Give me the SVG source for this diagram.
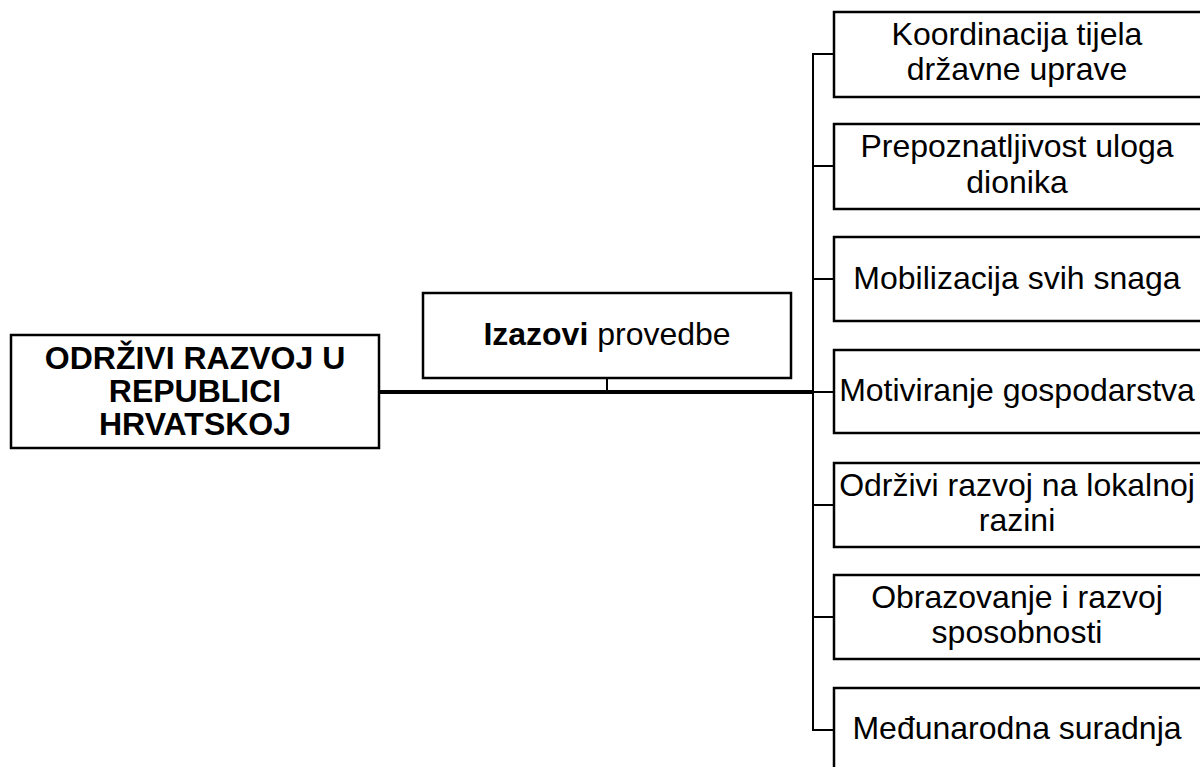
<svg xmlns="http://www.w3.org/2000/svg" width="1200" height="767" viewBox="0 0 1200 767">
<style>
.box{fill:#fff;stroke:#000;stroke-width:2.5}
.t{font-family:"Liberation Sans",Arial,sans-serif;font-size:32px;fill:#000;text-anchor:middle}
.b{font-weight:bold}
.c{stroke:#000;fill:none;stroke-width:2}
.thick{stroke:#000;fill:none;stroke-width:4}
</style>
<rect width="1200" height="767" fill="#fff"/>
<g id="connectors">
<line class="thick" x1="379" y1="392" x2="813" y2="392"/>
<line class="c" x1="607" y1="378" x2="607" y2="392"/>
<line class="c" x1="813" y1="54" x2="813" y2="730"/>
<line class="c" x1="812" y1="54" x2="834" y2="54"/>
<line class="c" x1="812" y1="166" x2="834" y2="166"/>
<line class="c" x1="812" y1="279" x2="834" y2="279"/>
<line class="c" x1="812" y1="392" x2="834" y2="392"/>
<line class="c" x1="812" y1="505" x2="834" y2="505"/>
<line class="c" x1="812" y1="617" x2="834" y2="617"/>
<line class="c" x1="812" y1="730" x2="834" y2="730"/>
</g>
<g id="main">
<rect class="box" x="11" y="335" width="368" height="113"/>
<text class="t b" font-size="31" x="195" y="369">ODRŽIVI RAZVOJ U</text>
<text class="t b" font-size="31" x="195" y="402">REPUBLICI</text>
<text class="t b" font-size="31" x="195" y="435">HRVATSKOJ</text>
</g>
<g id="izazovi">
<rect class="box" x="423" y="293" width="368" height="85"/>
<text class="t" x="607" y="345"><tspan font-weight="bold">Izazovi</tspan> provedbe</text>
</g>
<g id="n1">
<rect class="box" x="834" y="12" width="368" height="85"/>
<text class="t" x="1017" y="45">Koordinacija tijela</text>
<text class="t" x="1017" y="80">državne uprave</text>
</g>
<g id="n2">
<rect class="box" x="834" y="124" width="368" height="85"/>
<text class="t" x="1017" y="157">Prepoznatljivost uloga</text>
<text class="t" x="1017" y="193">dionika</text>
</g>
<g id="n3">
<rect class="box" x="834" y="237" width="368" height="84"/>
<text class="t" x="1017" y="289">Mobilizacija svih snaga</text>
</g>
<g id="n4">
<rect class="box" x="834" y="350" width="368" height="83"/>
<text class="t" x="1017" y="401">Motiviranje gospodarstva</text>
</g>
<g id="n5">
<rect class="box" x="834" y="463" width="368" height="84"/>
<text class="t" x="1017" y="496">Održivi razvoj na lokalnoj</text>
<text class="t" x="1017" y="531">razini</text>
</g>
<g id="n6">
<rect class="box" x="834" y="575" width="368" height="84"/>
<text class="t" x="1017" y="608">Obrazovanje i razvoj</text>
<text class="t" x="1017" y="643">sposobnosti</text>
</g>
<g id="n7">
<rect class="box" x="834" y="688" width="368" height="100"/>
<text class="t" x="1017" y="739">Međunarodna suradnja</text>
</g>
</svg>
